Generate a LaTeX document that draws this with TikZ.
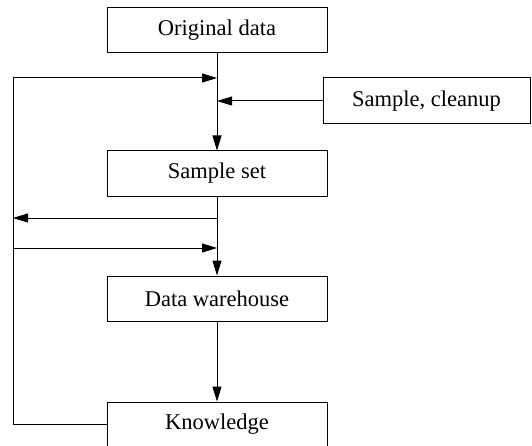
\documentclass[tikz,border=0pt]{standalone}
\usepackage{fontspec}
\setmainfont{Liberation Serif}
\usetikzlibrary{positioning,arrows.meta}
\begin{document}
\begin{tikzpicture}[x=1pt,y=1pt,
  box/.style={draw,line width=1pt,minimum width=220pt,minimum height=45pt,inner sep=0pt,
    font=\fontsize{22.5}{27}\selectfont},
  flow/.style={line width=1pt,-{Triangle[length=15pt,width=9pt]}}]
  \useasboundingbox (0,0) rectangle (532,445);
  \node (orig) [box] at (217,414.5) {Original data};
  \node (sample) [box, below=97pt of orig] {Sample set};
  \node (warehouse) [box, below=79pt of sample] {Data warehouse};
  \node (knowledge) [box, below=80pt of warehouse] {Knowledge};
  \node (cleanup) [box, minimum width=207pt, minimum height=46pt] at (426.5,344) {Sample, cleanup};
  % junctions on the main line and the left loop
  \coordinate (fbin) at (217,367);
  \coordinate (fbtop) at (13,367);
  \coordinate (clin) at (cleanup.west -| orig.south);
  \coordinate (outR) at (217,227);
  \coordinate (outL) at (13,227);
  \coordinate (inR) at (217,197);
  \coordinate (inL) at (13,197);
  \path[flow] (orig) edge (sample)
              (cleanup) edge (clin)
              (sample) edge (warehouse)
              (warehouse) edge (knowledge)
              (outR) edge (outL)
              (inL) edge (inR)
              ;
  \draw[flow] (knowledge.west) -| (fbtop) -- (fbin);
\end{tikzpicture}
\end{document}
